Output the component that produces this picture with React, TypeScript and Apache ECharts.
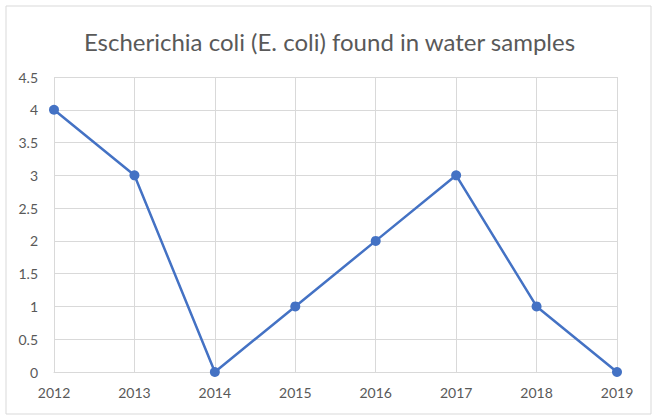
import React, { useEffect, useRef } from "react";
import * as echarts from "echarts";

const title = "Escherichia coli (E. coli) found in water samples";
const years = ["2012", "2013", "2014", "2015", "2016", "2017", "2018", "2019"];
const counts = [4, 3, 0, 1, 2, 3, 1, 0];
const yMin = 0;
const yMax = 4.5;
const yStep = 0.5;

export default function App() {
  const ref = useRef<HTMLDivElement>(null);
  useEffect(() => {
    if (!ref.current) return;
    const chart = echarts.init(ref.current, null, { renderer: "svg" });
    const font = "Lato, 'Liberation Sans', sans-serif";
    chart.setOption({
      animation: false,
      backgroundColor: "#ffffff",
      title: {
        text: title,
        left: "center",
        top: 24,
        textStyle: { fontFamily: font, fontSize: 24, fontWeight: "normal", color: "#595959" },
      },
      graphic: [
        {
          type: "rect",
          shape: { x: 6, y: 6, width: 645, height: 408 },
          style: { fill: "none", stroke: "#D9D9D9", lineWidth: 1 },
          silent: true,
        },
      ],
      grid: { left: 54, right: 42, top: 77, bottom: 44 },
      xAxis: {
        type: "category",
        data: years,
        boundaryGap: false,
        axisLine: { show: true, lineStyle: { color: "#D9D9D9", width: 1 } },
        axisTick: { show: false },
        splitLine: { show: true, lineStyle: { color: "#D9D9D9", width: 1 } },
        axisLabel: { color: "#595959", fontFamily: font, fontSize: 14, margin: 13 },
      },
      yAxis: {
        type: "value",
        min: yMin,
        max: yMax,
        interval: yStep,
        axisLine: { show: false },
        axisTick: { show: false },
        splitLine: { show: true, lineStyle: { color: "#D9D9D9", width: 1 } },
        axisLabel: { color: "#595959", fontFamily: font, fontSize: 14, margin: 16 },
      },
      series: [
        {
          type: "line",
          data: counts,
          symbol: "circle",
          symbolSize: 10,
          lineStyle: { color: "#4472C4", width: 2.5 },
          itemStyle: { color: "#4472C4" },
        },
      ],
    });
    return () => chart.dispose();
  }, []);
  return (
    <div
      ref={ref}
      style={{ position: "fixed", left: 0, top: 0, width: 659, height: 416 }}
    />
  );
}
